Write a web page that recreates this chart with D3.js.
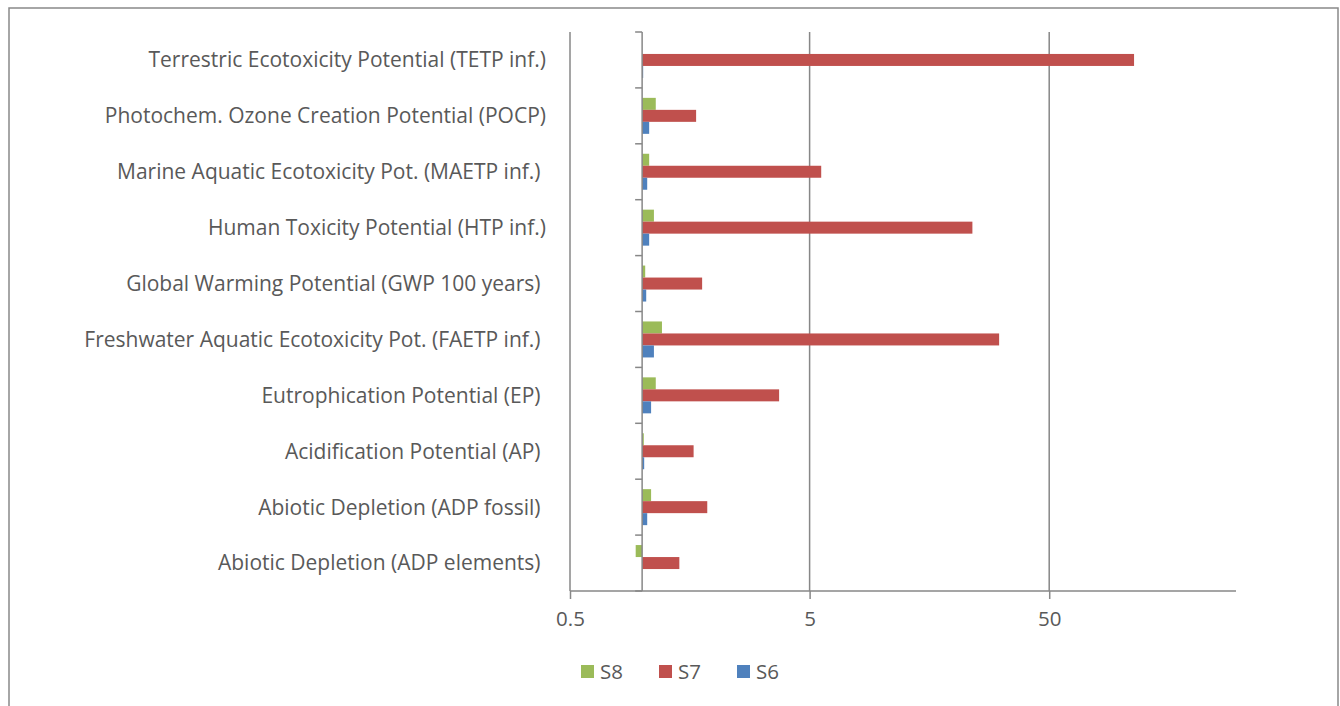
<!DOCTYPE html>
<html>
<head>
<meta charset="utf-8">
<script src="https://cdn.jsdelivr.net/npm/d3@7"></script>
<style>
  body { margin: 0; background: #fff; }
  svg text { font-family: "Open Sans", Lato, sans-serif; fill: #595959; white-space: pre; }
</style>
</head>
<body>
<div id="chart"></div>
<script>
// categories, top to bottom
const categories = [
  "Terrestric Ecotoxicity Potential (TETP inf.)",
  "Photochem. Ozone Creation Potential (POCP)",
  "Marine Aquatic Ecotoxicity Pot. (MAETP inf.) ",
  "Human Toxicity Potential (HTP inf.)",
  "Global Warming Potential (GWP 100 years) ",
  "Freshwater Aquatic Ecotoxicity Pot. (FAETP inf.) ",
  "Eutrophication Potential (EP) ",
  "Acidification Potential (AP) ",
  "Abiotic Depletion (ADP fossil) ",
  "Abiotic Depletion (ADP elements) "
];
const seriesNames = ["S8", "S7", "S6"];
const s8 = [1.0, 1.14, 1.07, 1.12, 1.03, 1.21, 1.14, 1.016, 1.09, 0.94];
const s7 = [113, 1.68, 5.59, 23.9, 1.78, 30.9, 3.73, 1.64, 1.87, 1.43];
const s6 = [1.01, 1.07, 1.05, 1.07, 1.04, 1.12, 1.09, 1.02, 1.05, 1.0];
const tickValues = [0.5, 5, 50];
const colors = ["#9BBB59", "#C0504D", "#4F81BD"];

const seriesValues = [s8, s7, s6];

const W = 1340, H = 706;
const svg = d3.select("#chart").append("svg")
  .attr("width", W).attr("height", H);

// outer frame
svg.append("rect")
  .attr("x", 9).attr("y", 8)
  .attr("width", 1329).attr("height", 720)
  .attr("fill", "none").attr("stroke", "#898989").attr("stroke-width", 1.5);

const plot = { left: 570, right: 1236, top: 32, bottom: 591 };

const x = d3.scaleLog()
  .domain([0.5, 301])
  .range([plot.left, plot.right]);

const y = d3.scaleBand()
  .domain(categories)
  .range([plot.top, plot.bottom]);

const sub = d3.scaleBand()
  .domain(seriesNames)
  .range([0, y.bandwidth()])
  .paddingInner(0)
  .paddingOuter(0.83);

// vertical gridlines
svg.append("g")
  .selectAll("line")
  .data(tickValues)
  .join("line")
  .attr("x1", d => x(d)).attr("x2", d => x(d))
  .attr("y1", plot.top).attr("y2", plot.bottom)
  .attr("stroke", "#878787").attr("stroke-width", 1.5);

// bars
const base = x(1);
seriesNames.forEach((s, si) => {
  svg.append("g")
    .attr("fill", colors[si])
    .selectAll("rect")
    .data(categories.map((c, i) => ({ cat: c, v: seriesValues[si][i] })))
    .join("rect")
    .attr("x", d => Math.min(x(d.v), base))
    .attr("y", d => y(d.cat) + sub(s))
    .attr("width", d => Math.abs(x(d.v) - base))
    .attr("height", sub.bandwidth());
});

// x axis
const xAxis = svg.append("g")
  .attr("transform", `translate(0,${plot.bottom})`)
  .call(d3.axisBottom(x).tickValues(tickValues).tickFormat(d3.format("")).tickSize(8).tickPadding(12))
  .call(g => g.select(".domain").attr("stroke", "#878787").attr("stroke-width", 1.5)
    .attr("d", `M${plot.left},0H${plot.right}`));
xAxis.selectAll(".tick line").attr("stroke", "#878787").attr("stroke-width", 1.5);
xAxis.selectAll(".tick text").style("font-size", "20.5px").attr("fill", "#595959");

// category axis crossing at 1
const yAxis = svg.append("g")
  .attr("transform", `translate(${base},0)`);
yAxis.append("line")
  .attr("y1", plot.top).attr("y2", plot.bottom)
  .attr("stroke", "#878787").attr("stroke-width", 1.5);
const bounds = categories.map(c => y(c)).concat([plot.bottom]);
yAxis.selectAll("line.tk")
  .data(bounds)
  .join("line")
  .attr("class", "tk")
  .attr("x1", -7).attr("x2", 0)
  .attr("y1", d => d).attr("y2", d => d)
  .attr("stroke", "#878787").attr("stroke-width", 1.5);

// category labels
svg.append("g")
  .selectAll("text")
  .data(categories)
  .join("text")
  .attr("x", 546)
  .attr("y", d => y(d) + y.bandwidth() / 2)
  .attr("dy", "0.35em")
  .attr("text-anchor", "end")
  .style("font-size", "21px")
  .text(d => d);

// legend
const legend = svg.append("g").attr("transform", "translate(581,665)");
seriesNames.forEach((s, i) => {
  const g = legend.append("g").attr("transform", `translate(${i * 78},0)`);
  g.append("rect").attr("width", 13).attr("height", 13).attr("fill", colors[i]);
  g.append("text").attr("x", 19).attr("y", 6.5).attr("dy", "0.35em")
    .style("font-size", "20.5px").text(s);
});
</script>
</body>
</html>
